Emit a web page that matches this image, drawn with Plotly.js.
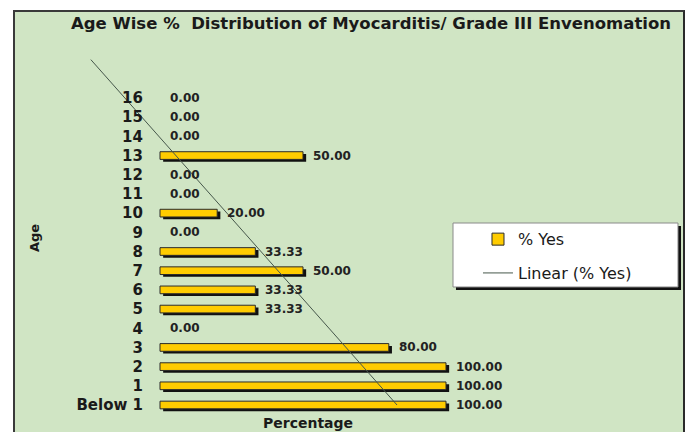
<!DOCTYPE html>
<html>
<head>
<meta charset="utf-8">
<script src="https://cdn.plot.ly/plotly-3.0.1.min.js"></script>
<style>
  html, body { margin: 0; padding: 0; background: #ffffff; }
  #frame {
    position: absolute; left: 13px; top: 10px;
    width: 668px; height: 440px;
    background: #d0e5c4;
    border-left: 2px solid #3a3a3a;
    border-top: 2px solid #3a3a3a;
    border-right: 2px solid #2a2a2a;
    overflow: hidden;
  }
  #chart { width: 668px; height: 420px; }
</style>
</head>
<body>
<div id="frame"><div id="chart"></div></div>
<script>
// ---- data ----
const ageLabels = ["Below 1", "1", "2", "3", "4", "5", "6", "7", "8", "9", "10", "11", "12", "13", "14", "15", "16"];
const pctYes = [100.00, 100.00, 100.00, 80.00, 0.00, 33.33, 33.33, 50.00, 33.33, 0.00, 20.00, 0.00, 0.00, 50.00, 0.00, 0.00, 0.00];
const seriesName = "% Yes";
const trendName = "Linear (% Yes)";
const forecastForward = 2;

// ---- derived ----
const pos = ageLabels.map((_, i) => i + 1);
const n = pctYes.length;
const mx = pos.reduce((a, b) => a + b, 0) / n;
const my = pctYes.reduce((a, b) => a + b, 0) / n;
let sxy = 0, sxx = 0;
for (let i = 0; i < n; i++) { sxy += (pos[i] - mx) * (pctYes[i] - my); sxx += (pos[i] - mx) ** 2; }
const slope = sxy / sxx;
const icpt = my - slope * mx;
const trendY = [1, n + forecastForward];
const trendX = trendY.map(p => icpt + slope * p);

const FONT = "DejaVu Sans, Verdana, sans-serif";
const BAR_W = 0.4;

const traces = [
  { // shadow
    type: "bar", orientation: "h", x: pctYes, y: pos, base: 1.1,
    width: BAR_W, offset: -BAR_W / 2 - 0.12,
    marker: { color: "#111111", line: { width: 0 } },
    showlegend: false, hoverinfo: "skip"
  },
  {
    type: "bar", orientation: "h", x: pctYes, y: pos, name: seriesName,
    width: BAR_W, offset: -BAR_W / 2,
    marker: { color: "#ffcc00", line: { color: "#2b2b2b", width: pctYes.map(v => v > 0 ? 1 : 0) } },
    legendgroup: "a"
  },
  {
    type: "scatter", mode: "lines", x: trendX, y: trendY, name: trendName,
    line: { color: "#46574b", width: 1 }, legendgroup: "b"
  }
];

const annotations = pctYes.map((v, i) => ({
  x: v, y: pos[i], xref: "x", yref: "y", text: v.toFixed(2),
  xanchor: "left", yanchor: "middle", xshift: 8, showarrow: false,
  font: { family: FONT, size: 12, color: "#222222", weight: "bold" }
}));
annotations.push({
  xref: "paper", yref: "paper", x: -0.0976, y: 0.4607, text: "Age", textangle: -90,
  showarrow: false, xanchor: "center", yanchor: "middle",
  font: { family: FONT, size: 13, color: "#1a1a1a", weight: "bold" }
});
annotations.push({
  xref: "paper", yref: "paper", x: 0.5548, y: -0.0236, text: "Percentage",
  showarrow: false, xanchor: "center", yanchor: "middle",
  font: { family: FONT, size: 14, color: "#1a1a1a", weight: "bold" }
});

const layout = {
  width: 668, height: 420,
  margin: { l: 60, r: 188, t: 20, b: 18 },
  paper_bgcolor: "rgba(0,0,0,0)", plot_bgcolor: "rgba(0,0,0,0)",
  title: {
    text: "Age Wise %  Distribution of Myocarditis/ Grade III Envenomation",
    x: 0.533, xref: "container", xanchor: "center",
    y: 0.974, yref: "container", yanchor: "middle",
    font: { family: FONT, size: 16.5, color: "#1a1a1a", weight: "bold" }
  },
  barmode: "overlay",
  xaxis: {
    range: [-29.72, 117.13], showticklabels: false, showgrid: false,
    zeroline: false, showline: false, ticks: ""
  },
  yaxis: {
    range: [0.531, 20.44], tickvals: pos, ticktext: ageLabels,
    anchor: "free", position: 0.20238, side: "left",
    showgrid: false, zeroline: false, showline: false, ticks: "",
    ticklabelstandoff: 17,
    tickfont: { family: FONT, size: 15, color: "#1a1a1a", weight: "bold" }
  },
  showlegend: true,
  legend: {
    x: 0.9595, y: 0.502, xanchor: "left", yanchor: "top",
    bgcolor: "rgba(0,0,0,0)", borderwidth: 0, tracegroupgap: 10,
    font: { family: FONT, size: 16, color: "#1a1a1a" }
  },
  shapes: [
    { type: "rect", xref: "paper", yref: "paper", x0: 0.9071, x1: 1.4429, y0: 0.3246, y1: 0.4921,
      fillcolor: "#111111", line: { width: 0 }, layer: "above" },
    { type: "rect", xref: "paper", yref: "paper", x0: 0.9, x1: 1.4357, y0: 0.3325, y1: 0.5,
      fillcolor: "#ffffff", line: { color: "#8a8a8a", width: 1 }, layer: "above" }
  ],
  annotations: annotations
};

Plotly.newPlot("chart", traces, layout, { displayModeBar: false, staticPlot: true });
</script>
</body>
</html>
